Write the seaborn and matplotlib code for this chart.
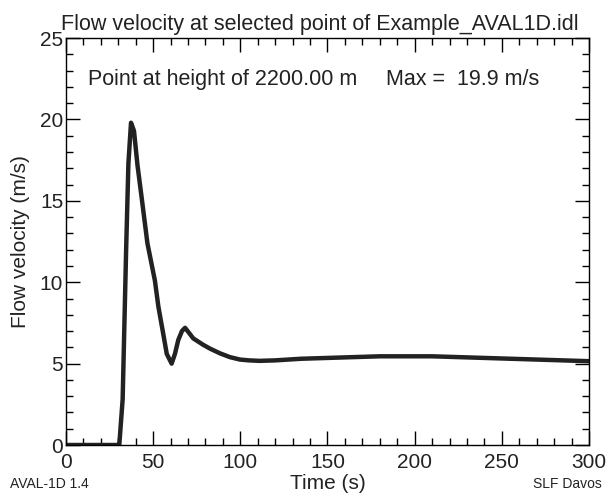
import pandas as pd
import seaborn as sns
import matplotlib.pyplot as plt
from matplotlib.ticker import MultipleLocator

# values
time_s = [0, 10, 20, 30, 30.6, 32.5, 34.5, 35.8, 37.3, 39, 41, 43.4, 46.7, 51, 53,
          55.5, 57.8, 60.6, 62.5, 64.4, 66.5, 68.3, 70.5, 73, 78.8, 83, 88.4, 94,
          99.8, 105, 111, 120, 135, 150, 165, 180, 195, 210, 225, 240, 255, 270,
          285, 300]
velocity = [0, 0, 0, 0, 0.05, 2.8, 12.0, 17.3, 19.8, 19.3, 17.2, 15.2, 12.4, 10.1, 8.5,
            7.0, 5.6, 5.0, 5.6, 6.45, 7.0, 7.2, 6.9, 6.55, 6.15, 5.9, 5.63, 5.4,
            5.25, 5.2, 5.17, 5.2, 5.3, 5.35, 5.4, 5.45, 5.45, 5.45, 5.4, 5.35, 5.3,
            5.25, 5.2, 5.15]

df = pd.DataFrame({"time": time_s, "velocity": velocity})

plt.rcParams["font.family"] = ["Liberation Sans", "DejaVu Sans"]

fig = plt.figure(figsize=(6.11, 4.95), dpi=100)
ax = fig.add_axes([0.108, 0.101, 0.856, 0.822])
sns.lineplot(data=df, x="time", y="velocity", ax=ax, color="#222222", linewidth=3.2)

ax.set_xlim(0, 300)
ax.set_ylim(0, 25)
ax.xaxis.set_major_locator(MultipleLocator(50))
ax.xaxis.set_minor_locator(MultipleLocator(10))
ax.yaxis.set_major_locator(MultipleLocator(5))
ax.yaxis.set_minor_locator(MultipleLocator(1))
ax.tick_params(which="both", direction="in", top=True, right=True, labelsize=15,
               color="black", labelcolor="#222222")
ax.tick_params(which="major", length=10, width=1)
ax.tick_params(which="minor", length=5, width=1)
ax.tick_params(axis="x", which="major", pad=6)
ax.tick_params(axis="y", which="major", pad=2)
for s in ax.spines.values():
    s.set_linewidth(1)
    s.set_color("black")

ax.set_title("Flow velocity at selected point of Example_AVAL1D.idl", fontsize=15.5,
             pad=6, x=0.485, color="#222222")
ax.set_xlabel("Time (s)", fontsize=15, labelpad=1, color="#222222")
ax.set_ylabel("Flow velocity (m/s)", fontsize=15, labelpad=7, color="#222222")

ax.text(12.8, 22.45, "Point at height of 2200.00 m", fontsize=15.5, va="center", color="#222222")
ax.text(183.5, 22.45, "Max =  19.9 m/s", fontsize=15.5, va="center", color="#222222")

fig.text(0.016, 0.022, "AVAL-1D 1.4", fontsize=10, ha="left", va="center", color="#222222")
fig.text(0.985, 0.022, "SLF Davos", fontsize=10, ha="right", va="center", color="#222222")

fig.savefig("out.png", dpi=100)
